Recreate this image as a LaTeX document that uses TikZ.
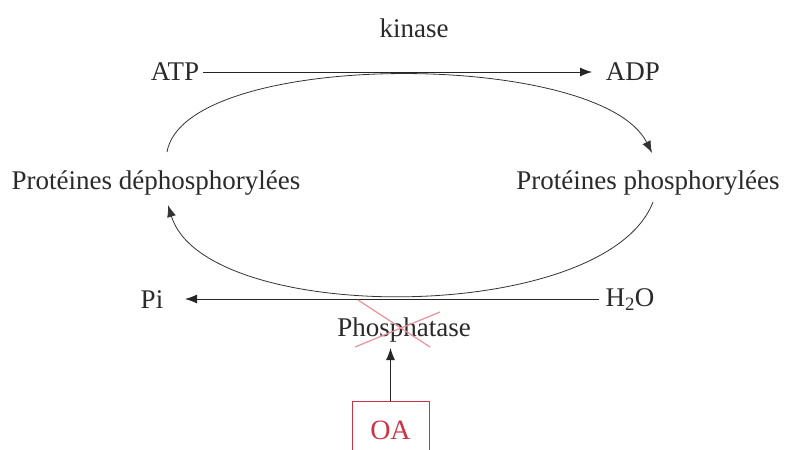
\documentclass[tikz,border=0pt]{standalone}
\usepackage{fontspec}
\setmainfont{Liberation Serif}
\usetikzlibrary{arrows.meta}
\definecolor{txt}{HTML}{2A2A2A}
\definecolor{oared}{HTML}{CC3344}
\definecolor{xred}{HTML}{E8939A}
\tikzset{
  lbl/.style={inner sep=0pt, text=txt, font=\fontsize{27}{31}\selectfont},
  tip/.style={-{Latex[length=12pt,width=9pt]}},
  conn/.style={draw=black!85, line width=0.9pt, tip},
  curv/.style={draw=black!80, line width=0.8pt, tip},
}
\begin{document}
\begin{tikzpicture}[x=1pt,y=-1pt]
\useasboundingbox (0,0) rectangle (785,450);
\clip (0,0) rectangle (785,450);
\fill[white] (0,0) rectangle (785,450);
% labels
\node[lbl] (kin) at (414,28) {kinase};
\node[lbl] (atp) at (175,72) {ATP};
\node[lbl] (adp) at (633,72) {ADP};
\node[lbl] (dep) at (156,183) {Protéines déphosphorylées};
\node[lbl] (pho) at (648,183) {Protéines phosphorylées};
\node[lbl] (pi) at (152,300) {Pi};
\node[lbl] (h2o) at (630,300) {H\textsubscript{2}O};
\node[lbl] (pase) at (404,330) {Phosphatase};
\node[draw=oared, line width=0.8pt, minimum width=77pt, minimum height=58pt, inner sep=0pt,
      text=oared, font=\fontsize{28}{32}\selectfont] (oa) at (390.5,430) {OA};
% straight arrows
\draw[conn] (atp.east) ++(4,0) coordinate (atpE) -- (592,72) coordinate (adpW);
\draw[conn] (h2o.west) ++(-6,-1) coordinate (h2oW) -- (185,299) coordinate (piE);
\coordinate (paseS) at (390.5,348);
\draw[conn] (oa.north) -- (paseS);
% cycle curves
\coordinate (depN) at (167,152);
\coordinate (phoN) at (652,153);
\coordinate (phoS) at (653,202);
\coordinate (depS) at (168,205);
\draw[curv] (depN) .. controls (185,49) and (600,49) .. (phoN);
\draw[curv] (phoS) .. controls (605,326) and (205,326) .. (depS);
% red cross over Phosphatase
\draw[xred, line width=1.2pt] (358,300) -- (430,347);
\draw[xred, line width=1.2pt] (440,312) -- (355,347);
\end{tikzpicture}
\end{document}
